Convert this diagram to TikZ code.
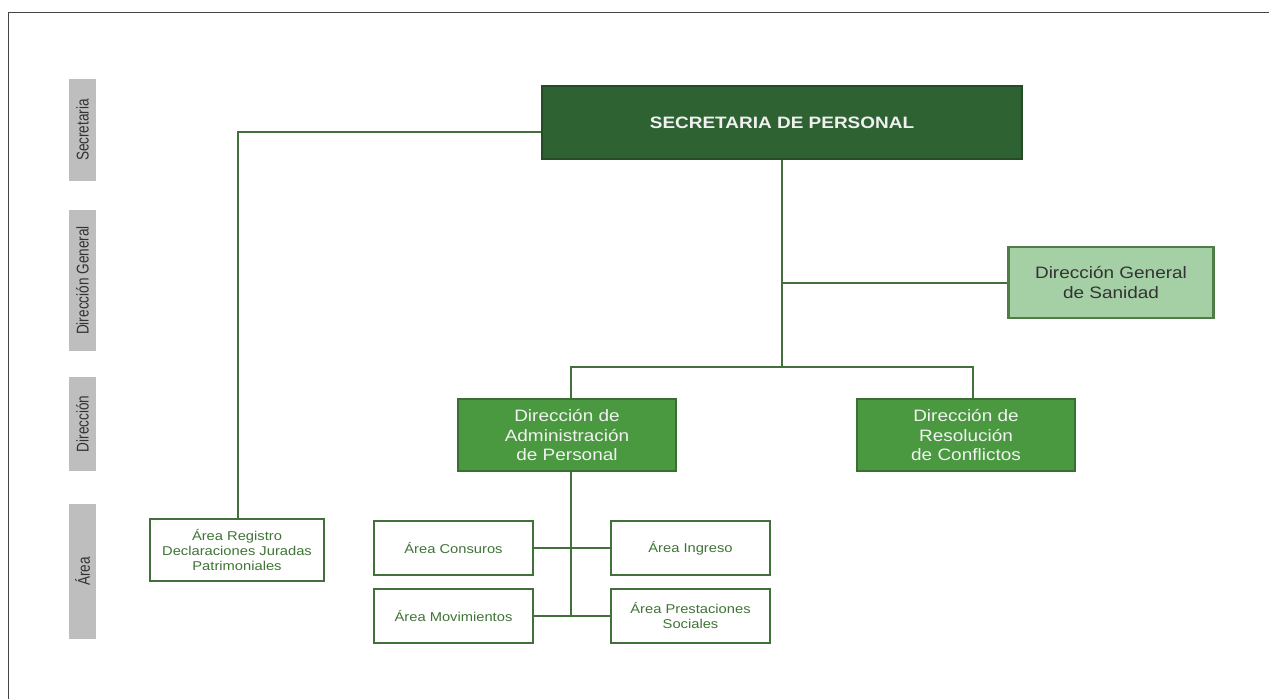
\documentclass[tikz,border=0pt]{standalone}
\usepackage{fontspec}
\setmainfont[FakeStretch=1.15]{Liberation Sans}
\newfontfamily\lblfont[FakeStretch=0.8]{Liberation Sans}
\definecolor{secfill}{HTML}{2E6232}
\definecolor{secdraw}{HTML}{244D27}
\definecolor{dirfill}{HTML}{4A9840}
\definecolor{dirdraw}{HTML}{3A6E32}
\definecolor{sanfill}{HTML}{A5D0A6}
\definecolor{sandraw}{HTML}{4E7D48}
\definecolor{linecol}{HTML}{41703A}
\definecolor{areatext}{HTML}{3F7436}
\definecolor{graybox}{HTML}{BEBEBE}
\definecolor{graytext}{HTML}{333333}
\definecolor{framecol}{HTML}{444444}
\tikzset{
  conn/.style={draw=linecol, line width=2pt},
  secbox/.style={rectangle, fill=secfill, draw=secdraw, line width=2.5pt, inner sep=0pt,
    minimum width=480pt, minimum height=73pt, text=white!94!black,
    font=\fontsize{16.5}{19}\selectfont\bfseries},
  dirbox/.style={rectangle, fill=dirfill, draw=dirdraw, line width=2.2pt, inner sep=0pt,
    minimum width=218pt, minimum height=72pt, text=white!95!black, align=center,
    font=\fontsize{16.5}{19.5}\selectfont},
  sanbox/.style={rectangle, fill=sanfill, draw=sandraw, line width=2.2pt, inner sep=0pt,
    minimum width=205pt, minimum height=71pt, text=graytext, align=center,
    font=\fontsize{16.5}{20.5}\selectfont},
  areabox/.style={rectangle, fill=white, draw=linecol, line width=2pt, inner sep=0pt,
    minimum width=159pt, minimum height=54pt, text=areatext, align=center,
    font=\fontsize{12.8}{15}\selectfont},
  levelbox/.style={rectangle, fill=graybox, inner sep=0pt, minimum width=26.5pt,
    text=graytext, font=\lblfont\fontsize{17}{19}\selectfont}
}
\begin{document}
\begin{tikzpicture}[x=1pt, y=-1pt]
\useasboundingbox (0,0) rectangle (1269,699);
\fill[white] (0,0) rectangle (1269,699);
\draw[framecol, line width=1.5pt] (8.5,699) -- (8.5,12.5) -- (1269,12.5);

% level labels
\node[levelbox, minimum height=102pt] (lsec) at (82.5,130) {\rotatebox{90}{Secretaria}};
\node[levelbox, minimum height=141pt] (ldg) at (82.5,280.5) {\rotatebox{90}{Dirección General}};
\node[levelbox, minimum height=94pt] (ldir) at (82.5,424) {\rotatebox{90}{Dirección}};
\node[levelbox, minimum height=135pt] (larea) at (82.5,571.5) {\rotatebox{90}{Área}};

% junction coordinate
\coordinate (bus) at (782,367);

% boxes
\node[secbox] (sec) at (782,122.5) {SECRETARIA DE PERSONAL};
\node[sanbox] (san) at (1111,282.5) {Dirección General\\de Sanidad};
\node[dirbox] (adm) at (567,435) {Dirección de\\Administración\\de Personal};
\node[dirbox] (res) at (966,435) {Dirección de\\Resolución\\de Conflictos};
\node[areabox, minimum width=174pt, minimum height=62pt] (reg) at (237,550) {Área Registro\\Declaraciones Juradas\\Patrimoniales};
\node[areabox] (con) at (453.5,548) {Área Consuros};
\node[areabox] (ing) at (690.5,548) {Área Ingreso};
\node[areabox] (mov) at (453.5,616) {Área Movimientos};
\node[areabox] (pre) at (690.5,616) {Área Prestaciones\\Sociales};

% connectors
\draw[conn] ([xshift=1pt]reg.north) |- ([yshift=-9pt]sec.west);
\draw[conn] (sec.south) -- (bus);
\draw[conn] (sec.south |- san.west) -- (san.west);
\draw[conn] ([xshift=3.5pt]adm.north) |- (bus) -| ([xshift=7pt]res.north);
\draw[conn] ([xshift=4pt]adm.south) -- ([xshift=4pt]adm.south |- mov.east);
\draw[conn] (con.east) -- (ing.west);
\draw[conn] (mov.east) -- (pre.west);
\end{tikzpicture}
\end{document}
